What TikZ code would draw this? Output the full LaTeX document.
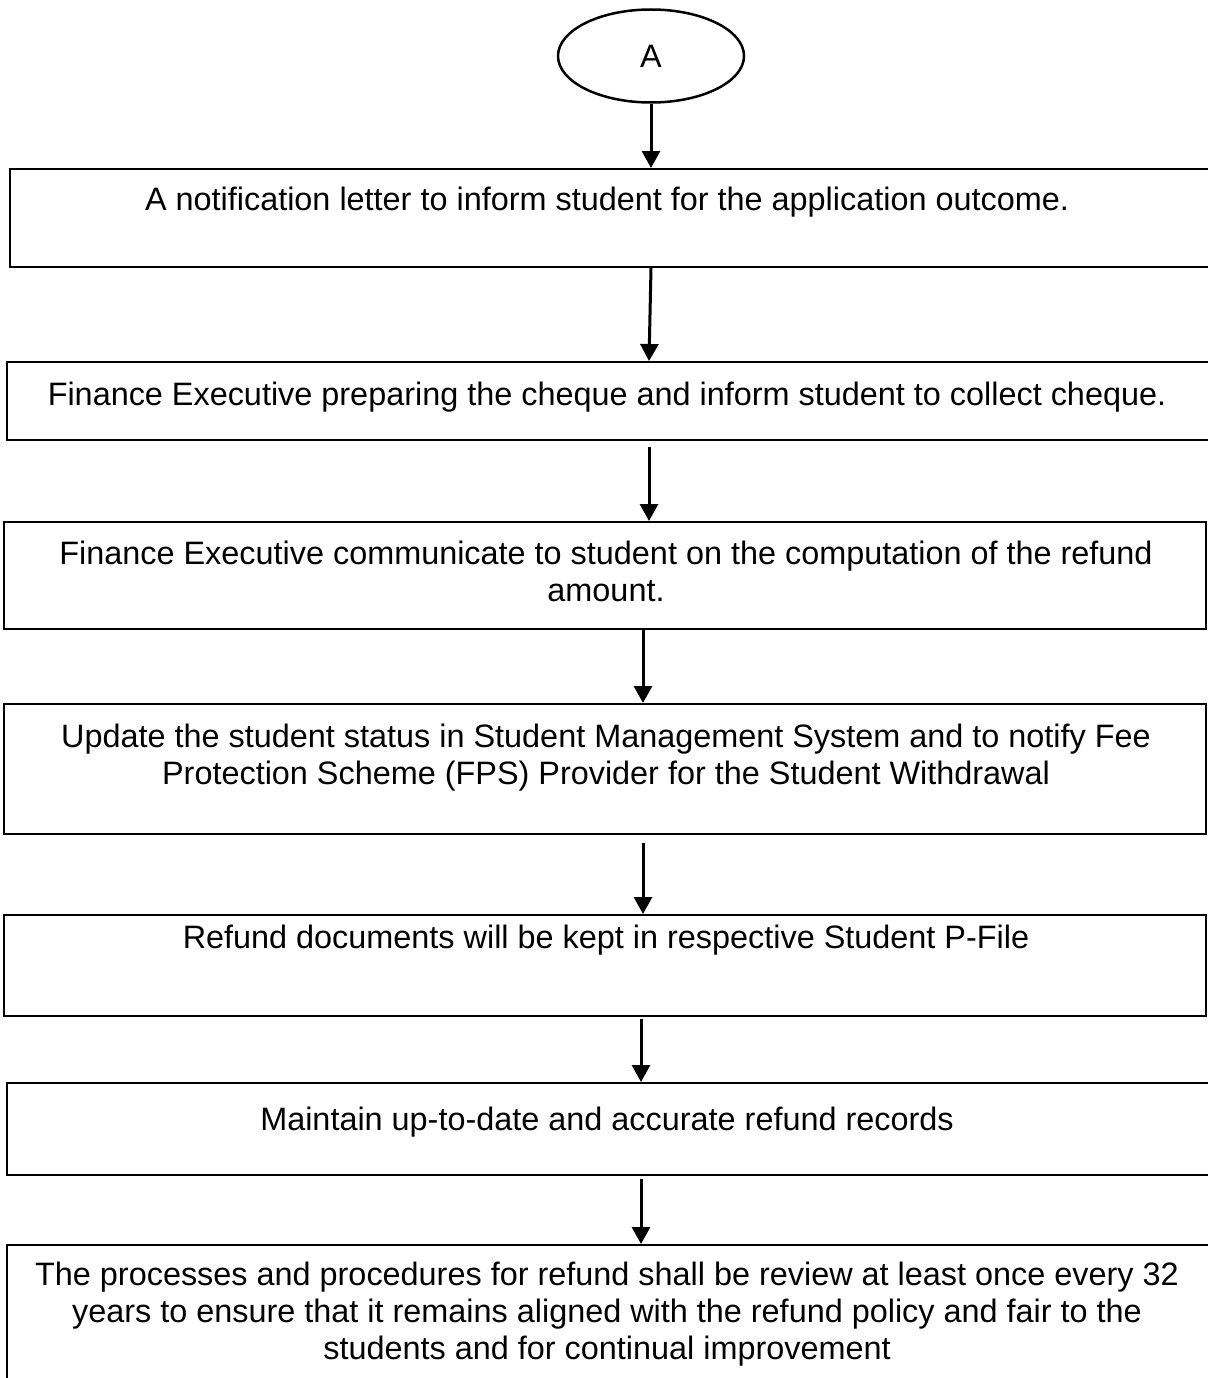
\documentclass[tikz,border=0pt]{standalone}
\usepackage{fontspec}
\setmainfont{Liberation Sans}
\usetikzlibrary{arrows.meta,shapes.geometric}
\begin{document}
\begin{tikzpicture}[x=1pt,y=-1pt,
  boxnode/.style={draw=black,line width=2pt,rectangle,inner sep=0pt},
  txt/.style={anchor=base,inner sep=0pt,font=\fontsize{32.4pt}{37pt}\selectfont},
  arr/.style={line width=3pt,-{Triangle[length=17pt,width=18pt]}},
]
\useasboundingbox (0,0) rectangle (1207,1378);
\fill[white] (0,0) rectangle (1207,1378);

\node[ellipse,draw=black,line width=2.5pt,minimum width=186pt,minimum height=93pt,inner sep=0pt,font=\fontsize{32.4pt}{37pt}\selectfont] (A) at (651,56) {A};

\node[boxnode,minimum width=1200pt,minimum height=98pt] (b1) at (610,218) {};
\node[boxnode,minimum width=1203pt,minimum height=78pt] (b2) at (608.5,401) {};
\node[boxnode,minimum width=1202pt,minimum height=107pt] (b3) at (605,575.5) {};
\node[boxnode,minimum width=1202pt,minimum height=130pt] (b4) at (605,769) {};
\node[boxnode,minimum width=1202pt,minimum height=101pt] (b5) at (605,965.5) {};
\node[boxnode,minimum width=1203pt,minimum height=92pt] (b6) at (608.5,1129) {};
\node[boxnode,minimum width=1203pt,minimum height=150pt] (b7) at (608.5,1320) {};

\node[txt] (t1) at (607,210) {A notification letter to inform student for the application outcome.};
\node[txt] (t2) at (607,405) {Finance Executive preparing the cheque and inform student to collect cheque.};
\node[txt] (t3a) at (606,564) {Finance Executive communicate to student on the computation of the refund};
\node[txt] (t3b) at (606,601) {amount.};
\node[txt] (t4a) at (606,747) {Update the student status in Student Management System and to notify Fee};
\node[txt] (t4b) at (606,784) {Protection Scheme (FPS) Provider for the Student Withdrawal};
\node[txt] (t5) at (606,948) {Refund documents will be kept in respective Student P-File};
\node[txt] (t6) at (607,1130) {Maintain up-to-date and accurate refund records};
\node[txt] (t7a) at (607,1285) {The processes and procedures for refund shall be review at least once every 32};
\node[txt] (t7b) at (607,1322) {years to ensure that it remains aligned with the refund policy and fair to the};
\node[txt] (t7c) at (607,1359) {students and for continual improvement};

\draw[arr] (A.south) -- (A.south |- b1.north);
\draw[arr] ([xshift=41pt]b1.south) -- ([xshift=40.5pt]b2.north);
\draw[arr] ([xshift=40.5pt,yshift=-6pt]b2.south) -- ([xshift=44pt]b3.north);
\draw[arr] ([xshift=38pt]b3.south) -- ([xshift=38pt]b4.north);
\draw[arr] ([xshift=38pt,yshift=-8pt]b4.south) -- ([xshift=38pt]b5.north);
\draw[arr] ([xshift=36pt,yshift=-2pt]b5.south) -- ([xshift=32.5pt]b6.north);
\draw[arr] ([xshift=32.5pt,yshift=-3pt]b6.south) -- ([xshift=32.5pt]b7.north);
\end{tikzpicture}
\end{document}
